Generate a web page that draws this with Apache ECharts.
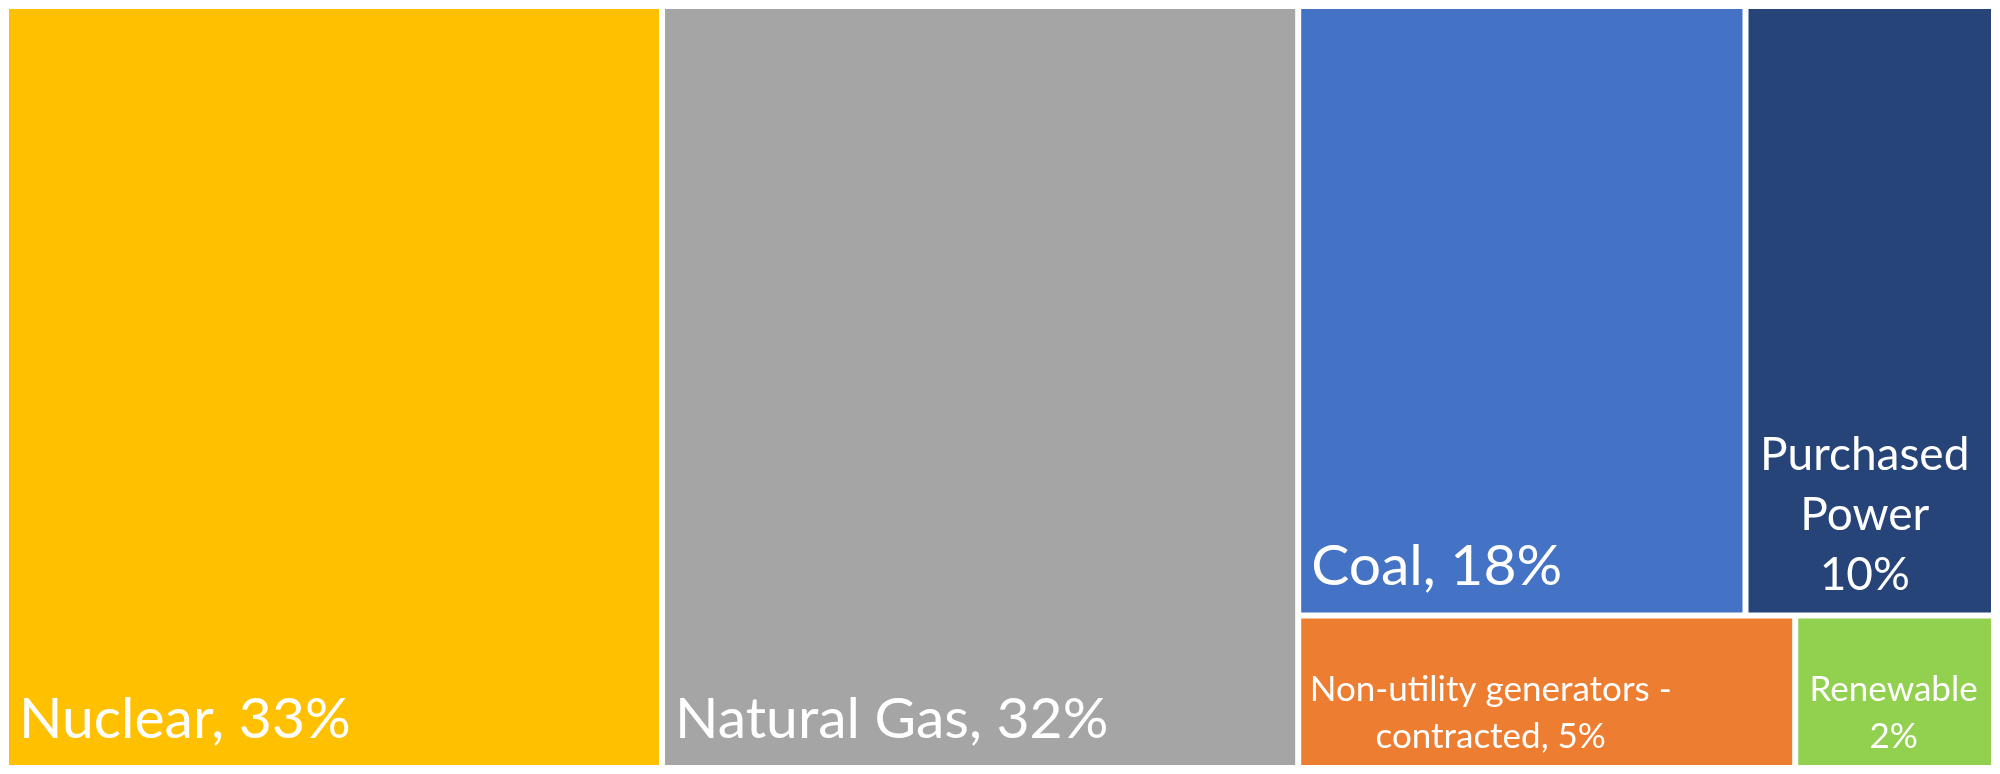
<!DOCTYPE html>
<html>
<head>
<meta charset="utf-8">
<script src="https://cdn.jsdelivr.net/npm/echarts@6/dist/echarts.min.js"></script>
<style>
html,body{margin:0;padding:0;background:#fff;}
#chart{width:2000px;height:774px;}
</style>
</head>
<body>
<div id="chart"></div>
<script>
// Data
var categories = ["Nuclear", "Natural Gas", "Coal", "Purchased Power", "Non-utility generators - contracted", "Renewable"];
var shares = [33, 32, 18, 10, 5, 2];
var labelTexts = ["Nuclear, 33%", "Natural Gas, 32%", "Coal, 18%", "Purchased\nPower\n10%", "Non-utility generators -\ncontracted, 5%", "Renewable\n2%"];

var colors = ["#FFC000", "#A5A5A5", "#4472C4", "#264478", "#ED7D31", "#92D050"];
var FONT = "Lato";
var bigLabel = {position: "insideBottomLeft", align: "left", fontSize: 57, lineHeight: 57, padding: [0, 0, 17, 10]};
var labelStyles = [
  bigLabel,
  bigLabel,
  bigLabel,
  {position: "insideBottom", align: "center", fontSize: 46, lineHeight: 60, padding: [0, 10, 7, 0]},
  {position: "insideBottom", align: "center", fontSize: 35, lineHeight: 47, padding: [0, 112, 5, 0]},
  {position: "insideBottom", align: "center", fontSize: 35, lineHeight: 47, padding: [0, 2, 5, 0]}
];

var data = categories.map(function (c, i) {
  var ls = labelStyles[i];
  return {
    name: c,
    value: shares[i],
    labelText: labelTexts[i],
    itemStyle: {color: colors[i]},
    label: {
      position: ls.position,
      align: ls.align,
      fontSize: ls.fontSize,
      lineHeight: ls.lineHeight,
      padding: ls.padding
    }
  };
});

var chart = echarts.init(document.getElementById("chart"), null, {renderer: "canvas"});
chart.setOption({
  animation: false,
  series: [{
    type: "treemap",
    left: 6,
    top: 6,
    width: 1988,
    height: 762,
    roam: false,
    nodeClick: false,
    breadcrumb: {show: false},
    sort: "desc",
    label: {
      show: true,
      color: "#ffffff",
      fontFamily: FONT,
      overflow: "none",
      formatter: function (p) { return p.data.labelText; }
    },
    upperLabel: {show: false},
    itemStyle: {borderColor: "#ffffff", borderWidth: 3, gapWidth: 0},
    levels: [
      {itemStyle: {borderWidth: 0, gapWidth: 0, borderColor: "#ffffff"}},
      {itemStyle: {borderWidth: 3, borderColor: "#ffffff", gapWidth: 0}}
    ],
    data: data
  }]
});
</script>
</body>
</html>
